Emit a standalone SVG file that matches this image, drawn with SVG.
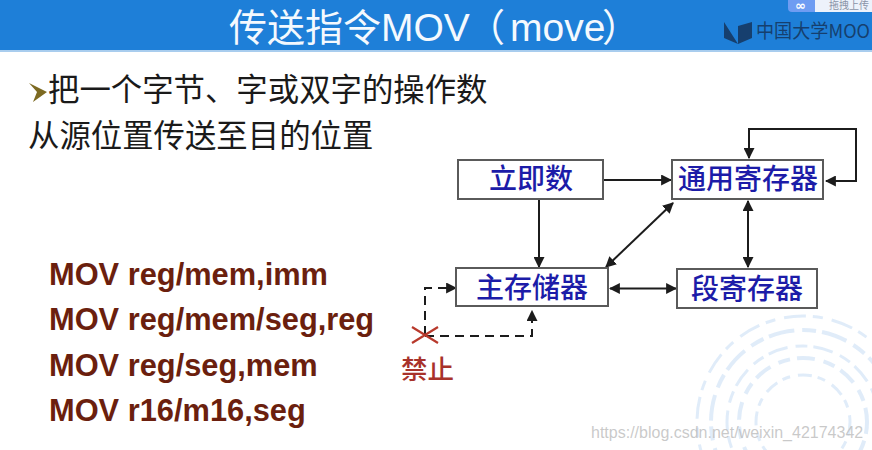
<svg xmlns="http://www.w3.org/2000/svg" width="872" height="450" viewBox="0 0 872 450">
<style>
.cjk{font-family:"Noto Sans CJK SC","Noto Sans CJK JP",sans-serif}
.lat{font-family:"Liberation Sans",Arial,sans-serif;font-size:39px}
.body{font-size:31.4px;fill:#1a1a1a}
.code{font-family:"Liberation Sans",Arial,sans-serif;font-weight:700;font-size:30.8px;fill:#6b1f0e}
.box{fill:#fff;stroke:#5a5a5a;stroke-width:2}
.lbl{font-family:"Noto Sans CJK SC","Noto Sans CJK JP",sans-serif;font-size:28px;font-weight:500;fill:#1c1ca8;text-anchor:middle}
.conn{fill:none;stroke:#1c1c1c;stroke-width:2}
.dash{stroke-dasharray:9 6}
.ring{fill:none;stroke:#d6e6f7;opacity:.75}
</style>
<defs>
<marker id="ah" viewBox="0 0 10 10" refX="9" refY="5" markerWidth="5.500" markerHeight="5.500" orient="auto-start-reverse"><path d="M0 0L10 5L0 10Z" fill="#1c1c1c"/></marker>
</defs>
<rect width="872" height="450" fill="#fff"/>
<g id="background-rings">
<circle class="ring" cx="803" cy="422" r="106" stroke-width="3" stroke-dasharray="22 7 10 9"/>
<circle class="ring" cx="803" cy="422" r="92" stroke-width="4" stroke-dasharray="14 6 26 8"/>
<circle class="ring" cx="803" cy="422" r="76" stroke-width="3" stroke-dasharray="20 8 12 6"/>
<circle class="ring" cx="803" cy="422" r="64" stroke-width="4" stroke-dasharray="12 7 18 9"/>
<circle class="ring" cx="803" cy="422" r="47" stroke-width="3" stroke-dasharray="14 6 8 8"/>
</g>
<g id="header">
<rect width="872" height="50" fill="#1e7fd8"/>
<rect y="50" width="872" height="2" fill="#a9cdee"/>
<text class="cjk" x="229" y="41" font-size="38" fill="#f4f9fe">传送指令<tspan class="lat">MOV</tspan><tspan x="467">（</tspan><tspan class="lat" x="510">move</tspan><tspan x="602">）</tspan></text>
<path d="M724 22L738 26L738 44L752 38V22L738 26Z M724 22V38L738 44Z" fill="#163f6e"/>
<text class="cjk" x="756" y="38" font-size="19" fill="#163f6e" textLength="114" lengthAdjust="spacingAndGlyphs">中国大学MOO</text>
<rect x="788" y="-6" width="40" height="18" rx="4" fill="#6e9cf2"/>
<rect x="815" y="-6" width="60" height="18" fill="#edf2fb"/>
<text class="cjk" x="829" y="9" font-size="10" fill="#8a94a8">拖拽上传</text>
<text font-family="DejaVu Sans,sans-serif" font-size="13" font-weight="700" x="795" y="10" fill="#fff">∞</text>
</g>
<g id="intro">
<path d="M29 83L47 92L33 102L37 92Z" fill="#7d6a22"/>
<text class="cjk body" x="48" y="101">把一个字节、字或双字的操作数</text>
<text class="cjk body" x="28" y="147">从源位置传送至目的位置</text>
</g>
<g id="instructions">
<text class="code" x="49" y="285">MOV reg/mem,imm</text>
<text class="code" x="49" y="330">MOV reg/mem/seg,reg</text>
<text class="code" x="49" y="376">MOV reg/seg,mem</text>
<text class="code" x="49" y="421">MOV r16/m16,seg</text>
</g>
<g id="connectors">
<path class="conn" d="M603 180H671" marker-end="url(#ah)"/>
<path class="conn" d="M539 199V267" marker-end="url(#ah)"/>
<path class="conn" d="M606 267L673 203" marker-start="url(#ah)" marker-end="url(#ah)"/>
<path class="conn" d="M748 201V267" marker-start="url(#ah)" marker-end="url(#ah)"/>
<path class="conn" d="M610 288.500H676" marker-start="url(#ah)" marker-end="url(#ah)"/>
<path class="conn" d="M749 158V129H856V181H826" marker-start="url(#ah)" marker-end="url(#ah)"/>
<path class="conn dash" d="M425 335V288H456" marker-end="url(#ah)"/>
<path class="conn dash" d="M425 336H532V311" marker-end="url(#ah)"/>
</g>
<g id="node-immediate"><rect class="box" x="458" y="160" width="145" height="39"/><text class="lbl" x="531" y="189">立即数</text></g>
<g id="node-general-register"><rect class="box" x="672" y="160" width="151" height="39"/><text class="lbl" x="748" y="189">通用寄存器</text></g>
<g id="node-memory"><rect class="box" x="456" y="268" width="152" height="38"/><text class="lbl" x="532" y="298">主存储器</text></g>
<g id="node-segment-register"><rect class="box" x="677" y="269" width="140" height="39"/><text class="lbl" x="747" y="299">段寄存器</text></g>
<g id="forbidden">
<path d="M412 327L438 343M412 343L438 327" stroke="#b8392c" stroke-width="2.200" fill="none"/>
<text class="cjk" x="401" y="379" font-size="26.500" font-weight="500" fill="#a8322a">禁止</text>
</g>
<text x="591" y="438" font-family="Liberation Sans,sans-serif" font-size="16" fill="#b8b8b8" fill-opacity=".75">https://blog.csdn.net/weixin_42174342</text>
</svg>
